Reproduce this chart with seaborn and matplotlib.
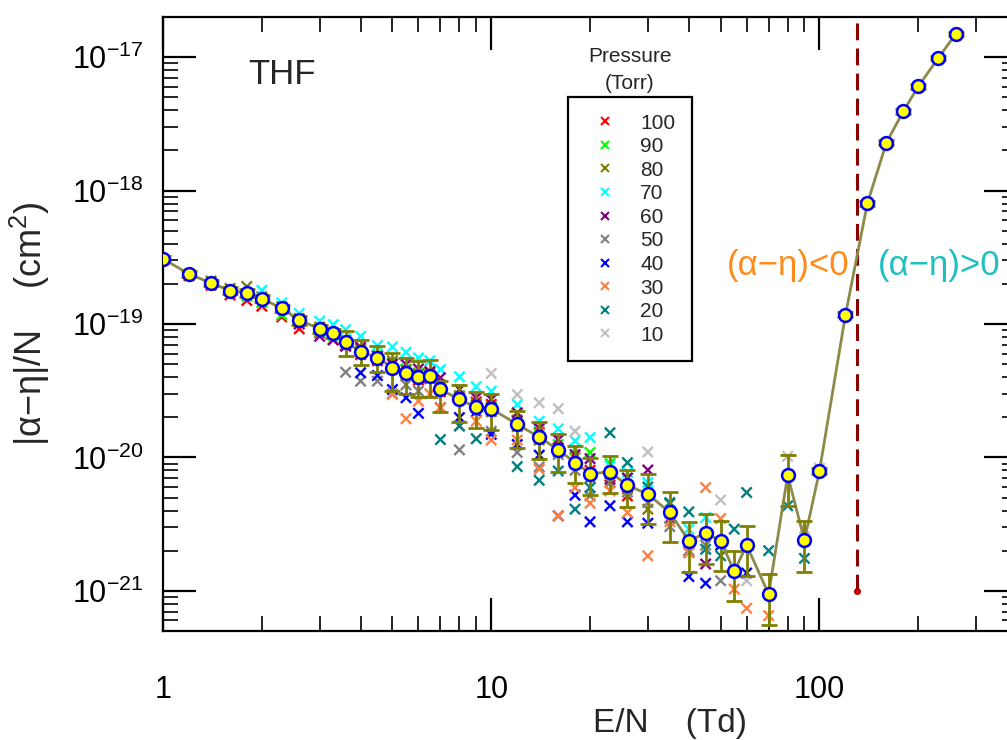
import numpy as np
import pandas as pd
import matplotlib
matplotlib.use('Agg')
import matplotlib.pyplot as plt
import seaborn as sns
from matplotlib.lines import Line2D
from matplotlib.ticker import LogLocator, FixedLocator, FuncFormatter, NullFormatter

# averaged |alpha-eta|/N (circles) with error bar bounds
en = [1, 1.2, 1.4, 1.6, 1.8, 2, 2.3, 2.6, 3, 3.3, 3.6, 4, 4.5, 5, 5.5, 6, 6.5, 7, 8, 9, 10,
      12, 14, 16, 18, 20, 23, 26, 30, 35, 40, 45, 50, 55, 60, 70, 80, 90, 100,
      120, 140, 160, 180, 200, 230, 260]
mean = [3.08e-19, 2.37e-19, 2.03e-19, 1.78e-19, 1.71e-19, 1.55e-19, 1.31e-19, 1.07e-19, 9.2e-20, 8.5e-20,
        7.35e-20, 6.2e-20, 5.6e-20, 4.72e-20, 4.3e-20, 4.02e-20, 4.1e-20, 3.23e-20, 2.72e-20, 2.38e-20, 2.32e-20,
        1.77e-20, 1.42e-20, 1.14e-20, 9.15e-21, 7.56e-21, 7.78e-21, 6.19e-21, 5.3e-21, 3.87e-21, 2.37e-21,
        2.71e-21, 2.37e-21, 1.40e-21, 2.2e-21, 9.46e-22, 7.34e-21, 2.40e-21, 7.92e-21,
        1.17e-19, 8.05e-19, 2.29e-18, 3.92e-18, 6.04e-18, 9.83e-18, 1.49e-17]
err_low = [2.9e-19, 2.25e-19, 1.92e-19, 1.68e-19, 1.6e-19, 1.45e-19, 1.22e-19, 9.9e-20, 8.5e-20, 7.8e-20,
           5.8e-20, 4.89e-20, 4.38e-20, 3.14e-20, 3.01e-20, 2.82e-20, 2.82e-20, 2.19e-20, 1.84e-20, 1.67e-20, 1.60e-20,
           1.18e-20, 9.8e-21, 7.78e-21, 6.4e-21, 5.25e-21, 5.39e-21, 4.22e-21, 3.16e-21, 2.31e-21, 1.39e-21,
           1.59e-21, 1.41e-21, 8.35e-22, 1.30e-21, 5.55e-22, 4.34e-21, 1.39e-21, 7.5e-21,
           1.12e-19, 7.7e-19, 2.2e-18, 3.76e-18, 5.8e-18, 9.45e-18, 1.43e-17]
err_high = [3.26e-19, 2.49e-19, 2.14e-19, 1.88e-19, 1.82e-19, 1.65e-19, 1.40e-19, 1.15e-19, 9.9e-20, 9.2e-20,
            8.81e-20, 7.64e-20, 6.89e-20, 6.08e-20, 5.57e-20, 5.32e-20, 5.4e-20, 3.73e-20, 3.52e-20, 3.09e-20, 3.01e-20,
            2.22e-20, 1.85e-20, 1.49e-20, 1.22e-20, 9.97e-21, 1.02e-20, 8.11e-21, 7.52e-21, 5.51e-21, 3.29e-21,
            3.75e-21, 3.34e-21, 2.0e-21, 3.07e-21, 1.34e-21, 1.04e-20, 3.34e-21, 8.35e-21,
            1.22e-19, 8.4e-19, 2.38e-18, 4.08e-18, 6.28e-18, 1.02e-17, 1.55e-17]

# individual measurements per pressure (Torr)
p100_e = [1, 1.2, 1.4, 1.6, 1.8, 2, 2.3, 2.6, 3, 3.3, 3.6, 4, 4.5, 5, 5.5, 6, 6.5, 7, 8, 9, 10, 12, 14, 16, 18, 20, 23, 26]
p100_v = [3.0e-19, 2.3e-19, 1.95e-19, 1.65e-19, 1.50e-19, 1.36e-19, 1.13e-19, 9.2e-20, 8.6e-20, 7.64e-20, 6.9e-20,
          5.9e-20, 5.3e-20, 4.6e-20, 4.1e-20, 3.8e-20, 3.9e-20, 3.1e-20, 2.9e-20, 2.6e-20, 2.5e-20, 1.9e-20,
          1.54e-20, 1.36e-20, 1.0e-20, 8.0e-21, 7.2e-21, 5.14e-21]
p90_e = [1.2, 1.4, 1.6, 1.8, 2, 2.3, 2.6, 3, 3.3, 3.6, 4, 4.5, 5, 5.5, 6, 6.5, 7, 8, 9, 10, 12, 14, 16, 18, 20, 23, 26]
p90_v = [2.35e-19, 2.0e-19, 1.75e-19, 1.62e-19, 1.45e-19, 1.17e-19, 1.02e-19, 8.8e-20, 8.2e-20, 7.2e-20, 6.4e-20,
         5.9e-20, 5.1e-20, 4.6e-20, 4.3e-20, 4.2e-20, 3.4e-20, 2.9e-20, 2.5e-20, 2.4e-20, 1.9e-20, 1.5e-20,
         1.25e-20, 1.15e-20, 1.09e-20, 9.0e-21, 7.0e-21]
p80_e = [1.4, 1.6, 1.8, 2, 2.3, 2.6, 3, 3.3, 3.6, 4, 4.5, 5, 5.5, 6, 6.5, 7, 8, 9, 10, 12, 14, 16, 18, 20, 23, 26, 30, 35, 40]
p80_v = [2.1e-19, 1.85e-19, 1.91e-19, 1.6e-19, 1.35e-19, 1.1e-19, 9.5e-20, 8.6e-20, 7.6e-20, 6.5e-20, 5.8e-20,
         5.3e-20, 4.5e-20, 4.2e-20, 4.3e-20, 3.5e-20, 2.8e-20, 2.5e-20, 2.2e-20, 1.7e-20, 1.35e-20, 1.1e-20,
         9.0e-21, 7.0e-21, 6.5e-21, 5.8e-21, 4.09e-21, 4.5e-21, 2.0e-21]
p70_e = [2, 2.3, 2.6, 3, 3.3, 3.6, 4, 4.5, 5, 5.5, 6, 6.5, 7, 8, 9, 10, 12, 14, 16, 18, 20, 23, 26, 30, 35, 40, 45]
p70_v = [1.79e-19, 1.44e-19, 1.20e-19, 1.05e-19, 9.9e-20, 9.08e-20, 8.09e-20, 6.89e-20, 6.74e-20, 6.14e-20, 5.57e-20,
         5.3e-20, 4.56e-20, 4.02e-20, 3.39e-20, 3.14e-20, 2.49e-20, 1.87e-20, 1.64e-20, 1.33e-20, 1.41e-20,
         8.63e-21, 7.69e-21, 6.48e-21, 4.0e-21, 2.90e-21, 3.55e-21]
p60_e = [2.6, 3, 3.3, 3.6, 4, 4.5, 5, 5.5, 6, 6.5, 7, 8, 9, 10, 12, 14, 16, 18, 20, 23, 26, 30, 35, 40, 45]
p60_v = [1.0e-19, 8.09e-20, 7.6e-20, 6.81e-20, 6.70e-20, 5.73e-20, 5.0e-20, 4.97e-20, 4.6e-20, 4.4e-20, 3.96e-20,
         3.23e-20, 2.80e-20, 2.72e-20, 2.16e-20, 1.65e-20, 1.36e-20, 1.05e-20, 9.8e-21, 6.86e-21, 7.0e-21,
         8.05e-21, 3.5e-21, 1.94e-21, 1.59e-21]
p50_e = [3.6, 4, 4.5, 5, 5.5, 6, 6.5, 7, 8, 9, 10, 12, 14, 16, 18, 20, 23, 26, 30, 35, 40, 45, 50]
p50_v = [4.35e-20, 3.73e-20, 3.73e-20, 3.0e-20, 3.5e-20, 3.14e-20, 4.1e-20, 3.2e-20, 1.14e-20, 2.4e-20, 1.57e-20,
         1.09e-20, 8.5e-21, 1.05e-20, 8.0e-21, 5.14e-21, 6.5e-21, 5.5e-21, 4.6e-21, 3.03e-21, 2.0e-21, 2.2e-21, 1.19e-21]
p40_e = [4, 4.5, 5, 5.5, 6, 6.5, 7, 8, 9, 10, 12, 14, 16, 18, 20, 23, 26, 30, 35, 40, 45, 50, 55, 60]
p40_v = [4.31e-20, 4.11e-20, 3.23e-20, 2.80e-20, 2.14e-20, 4.1e-20, 2.36e-20, 1.99e-20, 2.2e-20, 1.49e-20, 1.25e-20,
         1.04e-20, 3.65e-21, 5.21e-21, 3.29e-21, 4.34e-21, 3.29e-21, 3.21e-21, 3.9e-21, 1.28e-21, 1.14e-21,
         2.2e-21, 1.4e-21, 1.36e-21]
p30_e = [5, 5.5, 6, 6.5, 7, 8, 9, 10, 12, 14, 16, 18, 20, 23, 26, 30, 35, 40, 45, 50, 55, 60, 70]
p30_v = [2.96e-20, 1.95e-20, 2.64e-20, 3.0e-20, 2.36e-20, 1.72e-20, 1.87e-20, 1.35e-20, 1.35e-20, 8.15e-21, 3.65e-21,
         5.94e-21, 4.54e-21, 5.61e-21, 3.86e-21, 1.83e-21, 3.3e-21, 1.94e-21, 5.94e-21, 3.48e-21, 1.03e-21,
         7.40e-22, 6.52e-22]
p20_e = [7, 8, 9, 10, 12, 14, 16, 18, 20, 23, 26, 30, 35, 40, 45, 50, 55, 60, 70, 80, 90]
p20_v = [1.36e-20, 1.72e-20, 1.38e-20, 2.3e-20, 8.53e-21, 6.74e-21, 7.91e-21, 4.09e-21, 5.94e-21, 1.53e-20, 9.14e-21,
         6.0e-21, 4.59e-21, 3.91e-21, 2.05e-21, 1.83e-21, 2.90e-21, 5.46e-21, 2.0e-21, 4.34e-21, 1.75e-21]
p10_e = [10, 12, 14, 16, 18, 20, 23, 26, 30, 35, 40, 45, 50, 55, 60, 70, 80, 90, 100]
p10_v = [4.26e-20, 2.96e-20, 2.57e-20, 2.32e-20, 1.57e-20, 7.6e-21, 7.8e-21, 6.2e-21, 1.10e-20, 3.9e-21, 2.4e-21,
         2.7e-21, 4.80e-21, 1.4e-21, 1.19e-21, 9.5e-22, 1.02e-20, 2.93e-21, 8.3e-21]

pressures = [100, 90, 80, 70, 60, 50, 40, 30, 20, 10]
p_colors = ['#FF0000', '#00FF00', '#808000', '#00FFFF', '#800080',
            '#808080', '#0000FF', '#FF8040', '#008080', '#C0C0C0']
p_e = [p100_e, p90_e, p80_e, p70_e, p60_e, p50_e, p40_e, p30_e, p20_e, p10_e]
p_v = [p100_v, p90_v, p80_v, p70_v, p60_v, p50_v, p40_v, p30_v, p20_v, p10_v]

y_ticks = [1e-21, 1e-20, 1e-19, 1e-18, 1e-17]

df = pd.concat([pd.DataFrame({'en': e, 'val': v, 'p': p}) for p, e, v in zip(pressures, p_e, p_v)])
mean_df = pd.DataFrame({'en': en, 'val': mean})

sns.set_style('ticks')
plt.rcParams['font.family'] = ['Liberation Sans', 'DejaVu Sans']
plt.rcParams['mathtext.fontset'] = 'custom'
plt.rcParams['mathtext.rm'] = 'Liberation Sans'
plt.rcParams['mathtext.it'] = 'Liberation Sans:italic'
plt.rcParams['mathtext.bf'] = 'Liberation Sans:bold'

fig = plt.figure(figsize=(10.07, 7.40), dpi=100)
ax = fig.add_axes([0.1619, 0.1473, 0.8481, 0.8297])

# single measurements
sns.scatterplot(data=df, x='en', y='val', hue='p', hue_order=pressures, palette=p_colors,
                marker='x', s=55, linewidth=1.7, legend=False, ax=ax, zorder=2)

# averaged curve
sns.lineplot(data=mean_df, x='en', y='val', color='#8c8a48', lw=2, estimator=None, ax=ax, zorder=3)
m = np.array(mean)
yerr = [m - np.array(err_low), np.array(err_high) - m]
ax.errorbar(en, mean, yerr=yerr, fmt='none', ecolor='#808000', elinewidth=2, capsize=6, capthick=2, zorder=4)
sns.scatterplot(data=mean_df, x='en', y='val', color='#FFFF00', edgecolor='#0000FF', linewidth=1.8,
                s=85, ax=ax, zorder=5)

# sign change of (alpha - eta)
ax.plot([130, 130], [1e-21, 2e-17], color='#8B0000', lw=2.2, ls=(0, (5.5, 2.7)), zorder=1)
ax.plot([130], [1e-21], 'o', ms=4, color='#DD0000', mec='#990000', zorder=6)

ax.set_xscale('log')
ax.set_yscale('log')
ax.set_xlim(1, 400)
ax.set_ylim(5e-22, 2e-17)

ax.xaxis.set_major_locator(FixedLocator([1, 10, 100]))
ax.xaxis.set_major_formatter(FuncFormatter(lambda v, pos: f'{v:g}'))
ax.xaxis.set_minor_locator(LogLocator(base=10, subs=np.arange(2, 10), numticks=20))
ax.xaxis.set_minor_formatter(NullFormatter())
ax.yaxis.set_major_locator(FixedLocator(y_ticks))
ax.yaxis.set_major_formatter(FuncFormatter(lambda v, pos: r'$\mathregular{10^{%d}}$' % round(np.log10(v))))
ax.yaxis.set_minor_locator(LogLocator(base=10, subs=np.arange(2, 10), numticks=20))
ax.yaxis.set_minor_formatter(NullFormatter())

ax.tick_params(which='both', direction='in', top=True, right=True, colors='black')
ax.tick_params(which='major', length=24, width=1.6, labelsize=22)
ax.tick_params(which='minor', length=11, width=1.2)
ax.tick_params(axis='x', which='major', pad=32)
ax.tick_params(axis='y', which='major', pad=14)
for s in ax.spines.values():
    s.set_linewidth(1.6)
    s.set_color('black')

ax.set_xlabel('E/N    (Td)', fontsize=24)
ax.xaxis.set_label_coords(0.594, -0.125)
ax.set_ylabel('|α−η|/N    (cm$^{2}$)', fontsize=26, labelpad=14)

fig.text(248 / 1007, 1 - 75 / 740, 'THF', fontsize=25, ha='left', va='center')
fig.text(788 / 1007, 1 - 265 / 740, '(α−η)<0', color='#FF8C1A', fontsize=25, ha='center', va='center')
fig.text(939 / 1007, 1 - 265 / 740, '(α−η)>0', color='#20C0C0', fontsize=25, ha='center', va='center')

fig.text(630 / 1007, 1 - 70 / 740, 'Pressure\n(Torr)', fontsize=15, ha='center', va='center', linespacing=1.5)
handles = [Line2D([], [], ls='', marker='x', color=c, ms=6, mew=1.5) for c in p_colors]
leg = ax.legend(handles, [str(p) for p in pressures], loc='upper left', bbox_to_anchor=(0.474, 0.870),
                frameon=True, fancybox=False, edgecolor='black', fontsize=15, handlelength=2.0,
                handletextpad=0.67, borderpad=0.8, labelspacing=0.22, borderaxespad=0)
leg.get_frame().set_linewidth(1.6)
leg.get_frame().set_alpha(1)

fig.savefig('out.png', dpi=100)
